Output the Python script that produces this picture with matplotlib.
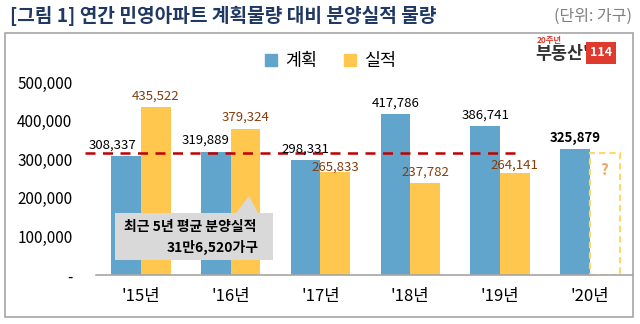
import numpy as np
import matplotlib
matplotlib.use("Agg")
import matplotlib.pyplot as plt
from matplotlib.patches import Rectangle, Polygon
from matplotlib.lines import Line2D

plt.rcParams['font.family'] = ['Noto Sans CJK KR', 'DejaVu Sans']

# 연간 민영아파트 계획물량 / 분양실적 (단위: 가구)
years = ["'15년", "'16년", "'17년", "'18년", "'19년", "'20년"]
plan = [308337, 319889, 298331, 417786, 386741, 325879]
actual = [435522, 379324, 265833, 237782, 264141]   # '20년은 미정
avg_5yr = 316520
yticks = [0, 100000, 200000, 300000, 400000, 500000]
ytick_labels = ["-", "100,000", "200,000", "300,000", "400,000", "500,000"]

BLUE = "#62A5CC"
YELLOW = "#FFC74D"
BROWN = "#843C0C"

W, H = 640, 324
fig = plt.figure(figsize=(W / 100, H / 100), dpi=100)

def px(x, y):
    return x / W, 1 - y / H

# outer frame
fig.patches.append(Rectangle(px(5, 317), 628 / W, 284 / H, transform=fig.transFigure,
                             fill=False, edgecolor="#A6A6A6", linewidth=1.2))

fig.text(*px(10, 16), "[그림 1] 연간 민영아파트 계획물량 대비 분양실적 물량",
         fontsize=13.8, fontweight="bold", color="#1F3864", va="center")
fig.text(*px(632, 16), "(단위: 가구)", fontsize=11.5, color="#7F7F7F", va="center", ha="right")

ax = fig.add_axes([96 / W, 1 - 275 / H, 537 / W, 216 / H])
x = np.arange(len(years))
bw = 0.33

ax.bar(x - bw / 2, plan, bw, color=BLUE)
ax.bar(x[:len(actual)] + bw / 2, actual, bw, color=YELLOW)
# '20년 실적 자리 (점선 박스)
ax.bar(x[-1] + bw / 2, avg_5yr, bw, fill=False, edgecolor="#FFD966",
       linestyle=(0, (3, 2)), linewidth=1.5)
ax.text(x[-1] + bw / 2, avg_5yr - 45000, "?", ha="center", va="center",
        fontsize=11, fontweight="bold", color="#E8A865")

# 평균선과 겹치는 라벨은 위치를 조금 옮김
plan_dx = [-0.15, -0.12, 0, 0, 0, 0]
actual_dy = [0, 0, -14000, 0, -8000]
for i, v in enumerate(plan):
    ax.text(x[i] - bw / 2 + plan_dx[i], v + 12000, f"{v:,}", ha="center", va="bottom",
            fontsize=9.5, color="black",
            fontweight="bold" if i == len(plan) - 1 else "normal")
for i, v in enumerate(actual):
    ax.text(x[i] + bw / 2, v + 12000 + actual_dy[i], f"{v:,}", ha="center", va="bottom",
            fontsize=9.5, color=BROWN)

# 최근 5년 평균선
ax.plot([-0.62, 4.24], [avg_5yr, avg_5yr], color="#C00000", linewidth=1.8,
        linestyle=(0, (4, 3)), clip_on=False)

ax.set_xlim(-0.5, 5.48)
ax.set_ylim(0, 560000)
ax.set_xticks(x)
ax.set_xticklabels(years, fontsize=12)
ax.set_yticks(yticks)
ax.set_yticklabels(ytick_labels, fontsize=11)
ax.tick_params(axis="both", length=0)
ax.tick_params(axis="y", pad=17)
ax.tick_params(axis="x", pad=9)
for s in ["top", "right", "left"]:
    ax.spines[s].set_visible(False)
ax.spines["bottom"].set_color("#A6A6A6")
ax.spines["bottom"].set_linewidth(1.2)
ax.patch.set_visible(False)

# legend
handles = [Line2D([], [], marker="s", color="none", markerfacecolor=BLUE, markeredgecolor=BLUE, markersize=8),
           Line2D([], [], marker="s", color="none", markerfacecolor=YELLOW, markeredgecolor=YELLOW, markersize=8)]
fig.legend(handles, ["계획", "실적"], loc="center", bbox_to_anchor=px(330, 61), ncol=2,
           frameon=False, fontsize=12.5, handletextpad=0.4, columnspacing=1.5, handlelength=0.8)

# callout box
pts = [(115, 213), (236, 213), (249, 196), (258, 213), (273, 213), (273, 260), (115, 260)]
fig.patches.append(Polygon([px(a, b) for a, b in pts], closed=True, transform=fig.transFigure,
                           facecolor="#D9D9D9", edgecolor="none", zorder=5))
fig.text(*px(124, 227), "최근 5년 평균 분양실적", fontsize=10, fontweight="bold", va="center", zorder=6)
fig.text(*px(167, 247), "31만6,520가구", fontsize=10, fontweight="bold", va="center", zorder=6)

# logo
fig.text(*px(537, 40), "20주년", fontsize=6, color="#E03A2E", fontweight="bold", va="center")
fig.text(*px(535, 54), "부동산'", fontsize=12.5, color="#333333", fontweight="bold", va="center")
fig.text(*px(601, 53), "114", fontsize=9, color="white", fontweight="bold", va="center", ha="center",
         bbox=dict(boxstyle="square,pad=0.35", facecolor="#E03A2E", edgecolor="none"))

fig.savefig("out.png", dpi=100)
